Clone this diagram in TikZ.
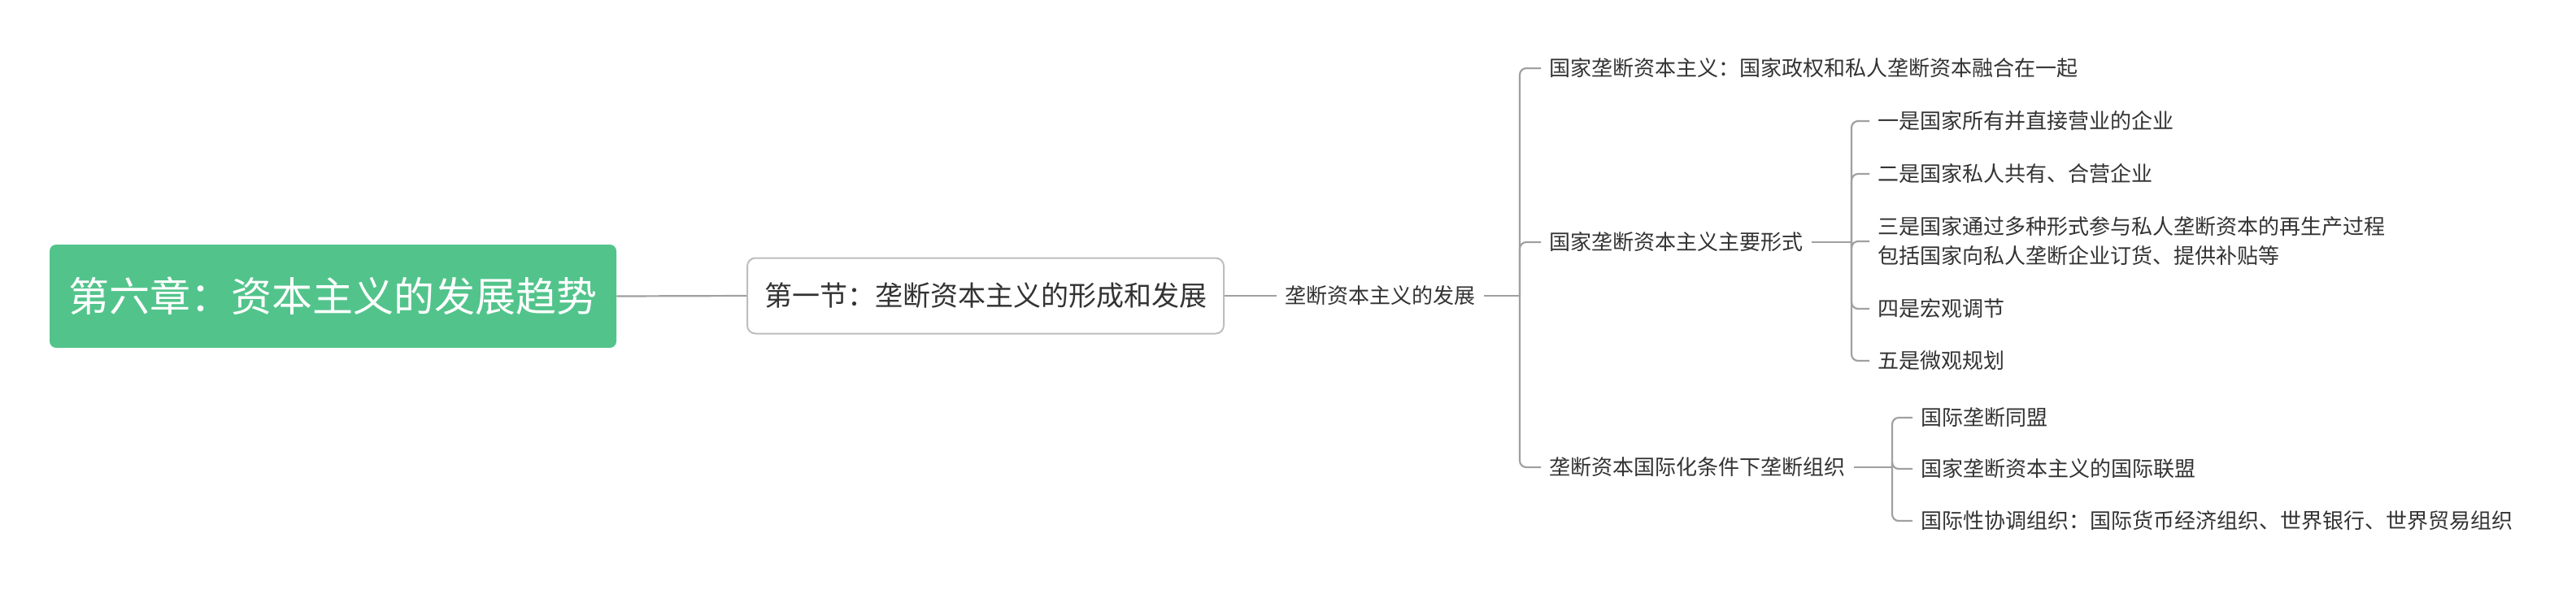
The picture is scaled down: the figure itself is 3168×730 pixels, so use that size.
\documentclass[tikz,border=0pt]{standalone}
\usepackage{fontspec}
\setmainfont{Noto Sans CJK SC}
\definecolor{rootgreen}{HTML}{52C48B}
\definecolor{linegray}{HTML}{A0A0A0}
\definecolor{txtgray}{HTML}{333333}
\definecolor{boxgray}{HTML}{BDBDBD}
\begin{document}
\begin{tikzpicture}[x=0.5pt,y=-0.5pt,
  conn/.style={draw=linegray,line width=1.1pt},
  brk/.style={conn,rounded corners=4pt},
  leaf/.style={font=\fontsize{13pt}{18pt}\selectfont,text=txtgray,anchor=west,inner xsep=5pt,inner ysep=2pt,align=left},
  rootbox/.style={fill=rootgreen,rounded corners=4pt,minimum width=348.5pt,minimum height=63.5pt,text=white,font=\fontsize{25pt}{30pt}\selectfont},
  subbox/.style={draw=boxgray,line width=1pt,fill=white,rounded corners=5pt,minimum width=293pt,minimum height=46.5pt,text=txtgray,font=\fontsize{17pt}{21pt}\selectfont}]
\useasboundingbox (0,0) rectangle (3168,730);
\node[rootbox] (root) at (409.5,364.5) {第六章：资本主义的发展趋势};
\node[subbox] (sub) at (1212,364) {第一节：垄断资本主义的形成和发展};
\node[leaf] (n2) at (1570,364) {垄断资本主义的发展};
\coordinate (b1) at (1869,364);
\node[leaf] (c1) at (1895,84) {国家垄断资本主义：国家政权和私人垄断资本融合在一起};
\node[leaf] (c2) at (1895,298) {国家垄断资本主义主要形式};
\node[leaf] (c3) at (1895,575) {垄断资本国际化条件下垄断组织};
\coordinate (b2) at (2277,298);
\node[leaf] (d1) at (2299,149) {一是国家所有并直接营业的企业};
\node[leaf] (d2) at (2299,214) {二是国家私人共有、合营企业};
\node[leaf] (d3) at (2299,297) {三是国家通过多种形式参与私人垄断资本的再生产过程\\包括国家向私人垄断企业订货、提供补贴等};
\node[leaf] (d4) at (2299,380) {四是宏观调节};
\node[leaf] (d5) at (2299,444) {五是微观规划};
\coordinate (b3) at (2327,575);
\node[leaf] (e1) at (2352,514) {国际垄断同盟};
\node[leaf] (e2) at (2352,577) {国家垄断资本主义的国际联盟};
\node[leaf] (e3) at (2352,641) {国际性协调组织：国际货币经济组织、世界银行、世界贸易组织};
\draw[conn] (root.east) -- (sub.west);
\draw[conn] (sub.east) -- (n2.west);
\draw[conn] (n2.east) -- (b1);
\foreach \c in {c1,c2,c3} \draw[brk] (b1) |- (\c.west);
\draw[conn] (c2.east) -- (b2);
\foreach \c in {d1,d2,d3,d4,d5} \draw[brk] (b2) |- (\c.west);
\draw[conn] (c3.east) -- (b3);
\foreach \c in {e1,e2,e3} \draw[brk] (b3) |- (\c.west);
\end{tikzpicture}
\end{document}
